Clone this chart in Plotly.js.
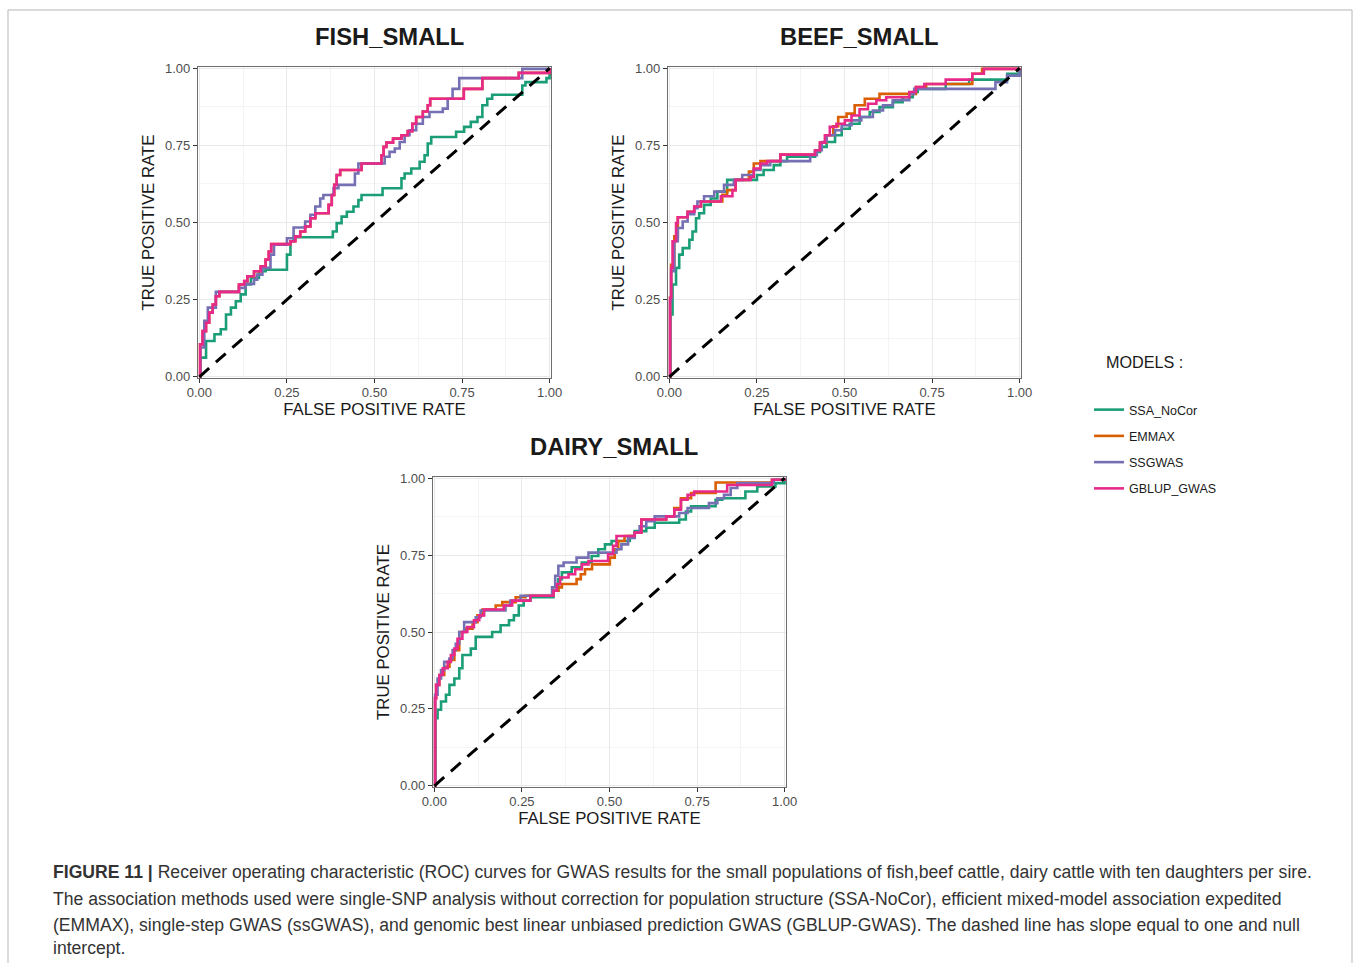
<!DOCTYPE html>
<html>
<head>
<meta charset="utf-8">
<script src="https://cdn.plot.ly/plotly-3.0.1.min.js"></script>
<style>
html,body{margin:0;padding:0;background:#fff;}
#chart{width:1360px;height:963px;}
</style>
</head>
<body>
<div id="chart"></div>
<script>
// ---------------- data ----------------
const models = ['SSA_NoCor', 'EMMAX', 'SSGWAS', 'GBLUP_GWAS'];
const modelColors = ['#1b9e77', '#d95f02', '#7570b3', '#e7298a'];
const panelTitles = ['FISH_SMALL', 'BEEF_SMALL', 'DAIRY_SMALL'];
const tickVals = [0, 0.25, 0.5, 0.75, 1];
const tickText = ['0.00', '0.25', '0.50', '0.75', '1.00'];
const diagX = [0, 1];
const diagY = [0, 1];

// FISH_SMALL
const fishSSA_x = [0,0.003,0.019,0.043,0.061,0.076,0.090,0.104,0.118,0.132,0.147,0.170,0.189,0.250,0.260,0.269,0.381,0.392,0.406,0.421,0.440,0.454,0.463,0.523,0.577,0.586,0.605,0.629,0.643,0.652,0.662,0.733,0.756,0.775,0.794,0.808,0.822,0.836,0.922,0.931,0.991,1];
const fishSSA_y = [0,0.062,0.116,0.138,0.154,0.202,0.224,0.245,0.267,0.299,0.320,0.342,0.347,0.396,0.439,0.452,0.471,0.498,0.519,0.535,0.552,0.573,0.589,0.611,0.643,0.659,0.675,0.697,0.718,0.756,0.777,0.794,0.810,0.826,0.842,0.880,0.901,0.914,0.944,0.955,0.968,1];
const fishEM_x = [0,0.002,0.009,0.019,0.028,0.038,0.047,0.057,0.113,0.128,0.137,0.156,0.175,0.189,0.198,0.205,0.260,0.274,0.288,0.302,0.317,0.331,0.369,0.378,0.385,0.392,0.402,0.463,0.520,0.526,0.534,0.553,0.577,0.595,0.608,0.619,0.638,0.652,0.659,0.755,0.808,0.912,1];
const fishEM_y = [0,0.105,0.148,0.175,0.208,0.234,0.261,0.275,0.299,0.310,0.326,0.342,0.358,0.380,0.406,0.430,0.439,0.455,0.471,0.487,0.514,0.530,0.557,0.589,0.622,0.654,0.670,0.691,0.718,0.745,0.759,0.772,0.783,0.796,0.820,0.842,0.860,0.880,0.901,0.933,0.968,0.985,1];
const fishSS_x = [0,0.003,0.014,0.024,0.047,0.113,0.132,0.156,0.165,0.180,0.203,0.213,0.250,0.269,0.302,0.317,0.331,0.345,0.354,0.383,0.397,0.444,0.454,0.529,0.543,0.558,0.572,0.586,0.600,0.619,0.638,0.657,0.695,0.709,0.723,0.742,0.922,1];
const fishSS_y = [0,0.095,0.181,0.224,0.275,0.288,0.301,0.315,0.331,0.353,0.396,0.428,0.449,0.484,0.503,0.525,0.552,0.578,0.589,0.611,0.622,0.659,0.691,0.713,0.729,0.740,0.761,0.783,0.799,0.820,0.842,0.858,0.869,0.901,0.933,0.968,0.998,1];
const fishGB_x = [0,0.002,0.009,0.019,0.028,0.038,0.047,0.057,0.113,0.128,0.137,0.156,0.175,0.189,0.198,0.205,0.260,0.274,0.288,0.302,0.317,0.331,0.369,0.378,0.385,0.392,0.402,0.463,0.520,0.526,0.534,0.553,0.577,0.595,0.608,0.619,0.638,0.652,0.659,0.755,0.808,0.912,1];
const fishGB_y = [0,0.105,0.148,0.175,0.208,0.234,0.261,0.275,0.299,0.310,0.326,0.342,0.358,0.380,0.406,0.430,0.439,0.455,0.471,0.487,0.514,0.530,0.557,0.589,0.622,0.654,0.670,0.691,0.718,0.745,0.759,0.772,0.783,0.796,0.820,0.842,0.860,0.880,0.901,0.933,0.968,0.985,1];

// BEEF_SMALL
const beefSSA_x = [0,0.003,0.009,0.019,0.028,0.038,0.057,0.066,0.076,0.085,0.099,0.118,0.137,0.165,0.250,0.269,0.298,0.317,0.336,0.416,0.430,0.449,0.473,0.492,0.515,0.543,0.572,0.600,0.638,0.666,0.695,0.709,0.789,0.856,0.965,1];
const beefSSA_y = [0,0.202,0.299,0.353,0.396,0.417,0.444,0.471,0.514,0.530,0.557,0.578,0.600,0.638,0.654,0.670,0.686,0.699,0.713,0.729,0.745,0.761,0.783,0.804,0.820,0.842,0.858,0.874,0.890,0.906,0.923,0.933,0.949,0.963,0.982,1];
const beefEM_x = [0,0.002,0.005,0.014,0.024,0.052,0.071,0.090,0.151,0.165,0.189,0.227,0.241,0.260,0.317,0.416,0.430,0.449,0.468,0.482,0.506,0.529,0.558,0.600,0.704,0.733,0.865,0.893,1];
const beefEM_y = [0,0.256,0.363,0.455,0.517,0.535,0.552,0.568,0.590,0.605,0.638,0.665,0.691,0.699,0.720,0.734,0.759,0.783,0.812,0.842,0.853,0.880,0.901,0.917,0.939,0.949,0.982,0.998,1];
const beefSS_x = [0,0.002,0.005,0.014,0.024,0.038,0.052,0.071,0.080,0.099,0.128,0.156,0.184,0.208,0.241,0.260,0.288,0.402,0.421,0.435,0.449,0.473,0.492,0.520,0.548,0.581,0.610,0.638,0.685,0.699,0.931,0.964,1];
const beefSS_y = [0,0.245,0.342,0.439,0.482,0.503,0.527,0.546,0.568,0.585,0.600,0.622,0.638,0.654,0.670,0.686,0.699,0.718,0.734,0.761,0.783,0.799,0.815,0.831,0.842,0.863,0.880,0.896,0.917,0.933,0.955,0.976,1];
const beefGB_x = [0,0.002,0.005,0.009,0.019,0.024,0.052,0.071,0.090,0.147,0.180,0.189,0.232,0.241,0.260,0.279,0.317,0.416,0.430,0.444,0.458,0.477,0.501,0.520,0.543,0.567,0.591,0.619,0.685,0.704,0.728,0.789,0.865,0.898,1];
const beefGB_y = [0,0.256,0.353,0.439,0.498,0.517,0.535,0.552,0.568,0.585,0.605,0.638,0.648,0.675,0.691,0.699,0.720,0.734,0.759,0.783,0.810,0.820,0.831,0.847,0.867,0.885,0.896,0.906,0.923,0.939,0.949,0.963,0.982,0.998,1];

// DAIRY_SMALL
const dairySSA_x = [0,0.003,0.009,0.019,0.033,0.043,0.057,0.071,0.080,0.104,0.118,0.165,0.189,0.213,0.227,0.241,0.255,0.274,0.340,0.354,0.364,0.392,0.421,0.449,0.468,0.487,0.506,0.558,0.572,0.605,0.629,0.699,0.718,0.733,0.803,0.822,0.888,0.922,0.974,1];
const dairySSA_y = [0,0.220,0.247,0.274,0.296,0.328,0.349,0.382,0.425,0.446,0.484,0.500,0.522,0.538,0.554,0.586,0.602,0.613,0.634,0.672,0.694,0.710,0.726,0.747,0.769,0.785,0.796,0.812,0.828,0.839,0.855,0.866,0.892,0.909,0.930,0.935,0.957,0.973,0.984,1];
const dairyEM_x = [0,0.002,0.005,0.014,0.028,0.043,0.057,0.071,0.090,0.109,0.123,0.137,0.175,0.194,0.232,0.260,0.340,0.354,0.364,0.406,0.418,0.430,0.450,0.501,0.515,0.525,0.543,0.572,0.591,0.662,0.685,0.704,0.733,0.803,0.964,1];
const dairyEM_y = [0,0.285,0.328,0.360,0.387,0.409,0.441,0.500,0.511,0.532,0.554,0.573,0.586,0.597,0.613,0.618,0.634,0.645,0.656,0.672,0.688,0.704,0.720,0.742,0.769,0.796,0.812,0.823,0.866,0.876,0.903,0.935,0.952,0.986,0.995,1];
const dairySS_x = [0,0.002,0.009,0.019,0.028,0.043,0.052,0.061,0.071,0.085,0.118,0.132,0.203,0.217,0.246,0.336,0.345,0.354,0.369,0.406,0.440,0.520,0.534,0.553,0.572,0.586,0.605,0.629,0.699,0.723,0.784,0.808,0.827,0.846,0.865,0.969,1];
const dairySS_y = [0,0.296,0.349,0.376,0.403,0.414,0.441,0.462,0.500,0.532,0.548,0.570,0.586,0.602,0.618,0.645,0.683,0.715,0.726,0.742,0.758,0.769,0.785,0.806,0.823,0.844,0.860,0.876,0.887,0.903,0.919,0.935,0.946,0.968,0.984,0.995,1];
const dairyGB_x = [0,0.002,0.005,0.014,0.024,0.038,0.047,0.057,0.066,0.080,0.094,0.113,0.128,0.142,0.198,0.222,0.274,0.340,0.350,0.359,0.383,0.402,0.421,0.440,0.496,0.510,0.520,0.572,0.591,0.662,0.685,0.704,0.723,0.742,0.836,0.964,1];
const dairyGB_y = [0,0.285,0.328,0.360,0.382,0.403,0.425,0.446,0.478,0.500,0.516,0.538,0.554,0.573,0.586,0.602,0.618,0.634,0.656,0.677,0.688,0.704,0.720,0.731,0.753,0.780,0.812,0.823,0.866,0.876,0.898,0.930,0.946,0.957,0.978,0.995,1];

const captionLines = [
  '<b>FIGURE 11 |</b> Receiver operating characteristic (ROC) curves for GWAS results for the small populations of fish,beef cattle, dairy cattle with ten daughters per sire.',
  'The association methods used were single-SNP analysis without correction for population structure (SSA-NoCor), efficient mixed-model association expedited',
  '(EMMAX), single-step GWAS (ssGWAS), and genomic best linear unbiased prediction GWAS (GBLUP-GWAS). The dashed line has slope equal to one and null',
  'intercept.'
];

// ---------------- build figure ----------------
const W = 1360, H = 963;
const px = v => v / W;
const py = v => 1 - v / H;

const panels = [
  {xs: [fishSSA_x, fishEM_x, fishSS_x, fishGB_x], ys: [fishSSA_y, fishEM_y, fishSS_y, fishGB_y],
   box: [198, 551, 67, 378], titleX: 389, titleY: 37},
  {xs: [beefSSA_x, beefEM_x, beefSS_x, beefGB_x], ys: [beefSSA_y, beefEM_y, beefSS_y, beefGB_y],
   box: [668, 1021, 67, 378], titleX: 859, titleY: 37},
  {xs: [dairySSA_x, dairyEM_x, dairySS_x, dairyGB_x], ys: [dairySSA_y, dairyEM_y, dairySS_y, dairyGB_y],
   box: [433, 786, 477, 787], titleX: 614, titleY: 446}
];

const FONT = 'Liberation Sans, Arial, Helvetica, sans-serif';
const traces = [];
const layout = {
  width: W, height: H,
  margin: {l: 0, r: 0, t: 0, b: 0, pad: 0},
  paper_bgcolor: '#ffffff', plot_bgcolor: '#ffffff',
  font: {family: FONT, color: '#1a1a1a'},
  showlegend: true,
  legend: {
    x: px(1089), y: py(395), xanchor: 'left', yanchor: 'top',
    font: {family: FONT, size: 12.5, color: '#1a1a1a'},
    bgcolor: 'rgba(0,0,0,0)', borderwidth: 0,
    tracegroupgap: 7, itemwidth: 30
  },
  annotations: [], shapes: []
};

panels.forEach((p, i) => {
  const sfx = i === 0 ? '' : String(i + 1);
  const xa = 'x' + sfx, ya = 'y' + sfx;
  for (let m = 0; m < models.length; m++) {
    traces.push({
      type: 'scatter', mode: 'lines',
      x: p.xs[m], y: p.ys[m],
      xaxis: xa, yaxis: ya,
      name: models[m], legendgroup: models[m],
      showlegend: i === 0,
      line: {color: modelColors[m], width: 2.6, shape: 'hv'},
      hoverinfo: 'x+y+name'
    });
  }
  traces.push({
    type: 'scatter', mode: 'lines', x: diagX, y: diagY,
    xaxis: xa, yaxis: ya, showlegend: false, hoverinfo: 'skip',
    line: {color: '#000000', width: 3, dash: '13px,9px'}
  });
  const common = {
    range: [-0.004, 1.004], tickvals: tickVals, ticktext: tickText,
    ticks: 'outside', ticklen: 4, tickwidth: 1, tickcolor: '#333333',
    showline: true, mirror: true, linecolor: '#6e6e6e', linewidth: 1.3,
    showgrid: true, gridcolor: '#e9e9e9', gridwidth: 1,
    minor: {dtick: 0.125, tick0: 0.125, showgrid: true, gridcolor: '#f4f4f4', gridwidth: 0.7, ticks: ''},
    zeroline: false, automargin: false, fixedrange: true,
    tickfont: {family: FONT, size: 13, color: '#4d4d4d'}
  };
  layout['xaxis' + sfx] = Object.assign({}, common, {
    domain: [px(p.box[0]), px(p.box[1])], anchor: ya,
    ticklabelstandoff: -2,
    title: {text: 'FALSE POSITIVE RATE', font: {family: FONT, size: 16.8, color: '#1a1a1a'}, standoff: 2}
  });
  layout['yaxis' + sfx] = Object.assign({}, common, {
    domain: [py(p.box[3]), py(p.box[2])], anchor: xa,
    title: {text: 'TRUE POSITIVE RATE', font: {family: FONT, size: 16.8, color: '#1a1a1a'}, standoff: 6}
  });
  layout.annotations.push({
    text: '<b>' + panelTitles[i] + '</b>', xref: 'paper', yref: 'paper',
    x: px(p.titleX), y: py(p.titleY), xanchor: 'center', yanchor: 'middle',
    showarrow: false, font: {family: FONT, size: 23.8, color: '#1a1a1a'}
  });
});

// legend heading
layout.annotations.push({
  text: 'MODELS :', xref: 'paper', yref: 'paper', x: px(1104), y: py(362),
  xanchor: 'left', yanchor: 'middle', showarrow: false,
  font: {family: FONT, size: 16.2, color: '#1a1a1a'}
});

// caption
const captionY = [872, 899, 925, 948];
captionLines.forEach((t, k) => {
  layout.annotations.push({
    text: t, xref: 'paper', yref: 'paper', x: px(51), y: py(captionY[k]),
    xanchor: 'left', yanchor: 'middle', align: 'left', showarrow: false,
    font: {family: FONT, size: 17.6, color: '#333333'}
  });
});

// outer frame of the figure
layout.shapes.push({
  type: 'rect', xref: 'paper', yref: 'paper',
  x0: px(8), x1: px(1352), y0: py(980), y1: py(10),
  line: {color: '#b5b5b5', width: 1}, fillcolor: 'rgba(0,0,0,0)', layer: 'below'
});

Plotly.newPlot('chart', traces, layout, {displayModeBar: false, staticPlot: false, responsive: false});
</script>
</body>
</html>
